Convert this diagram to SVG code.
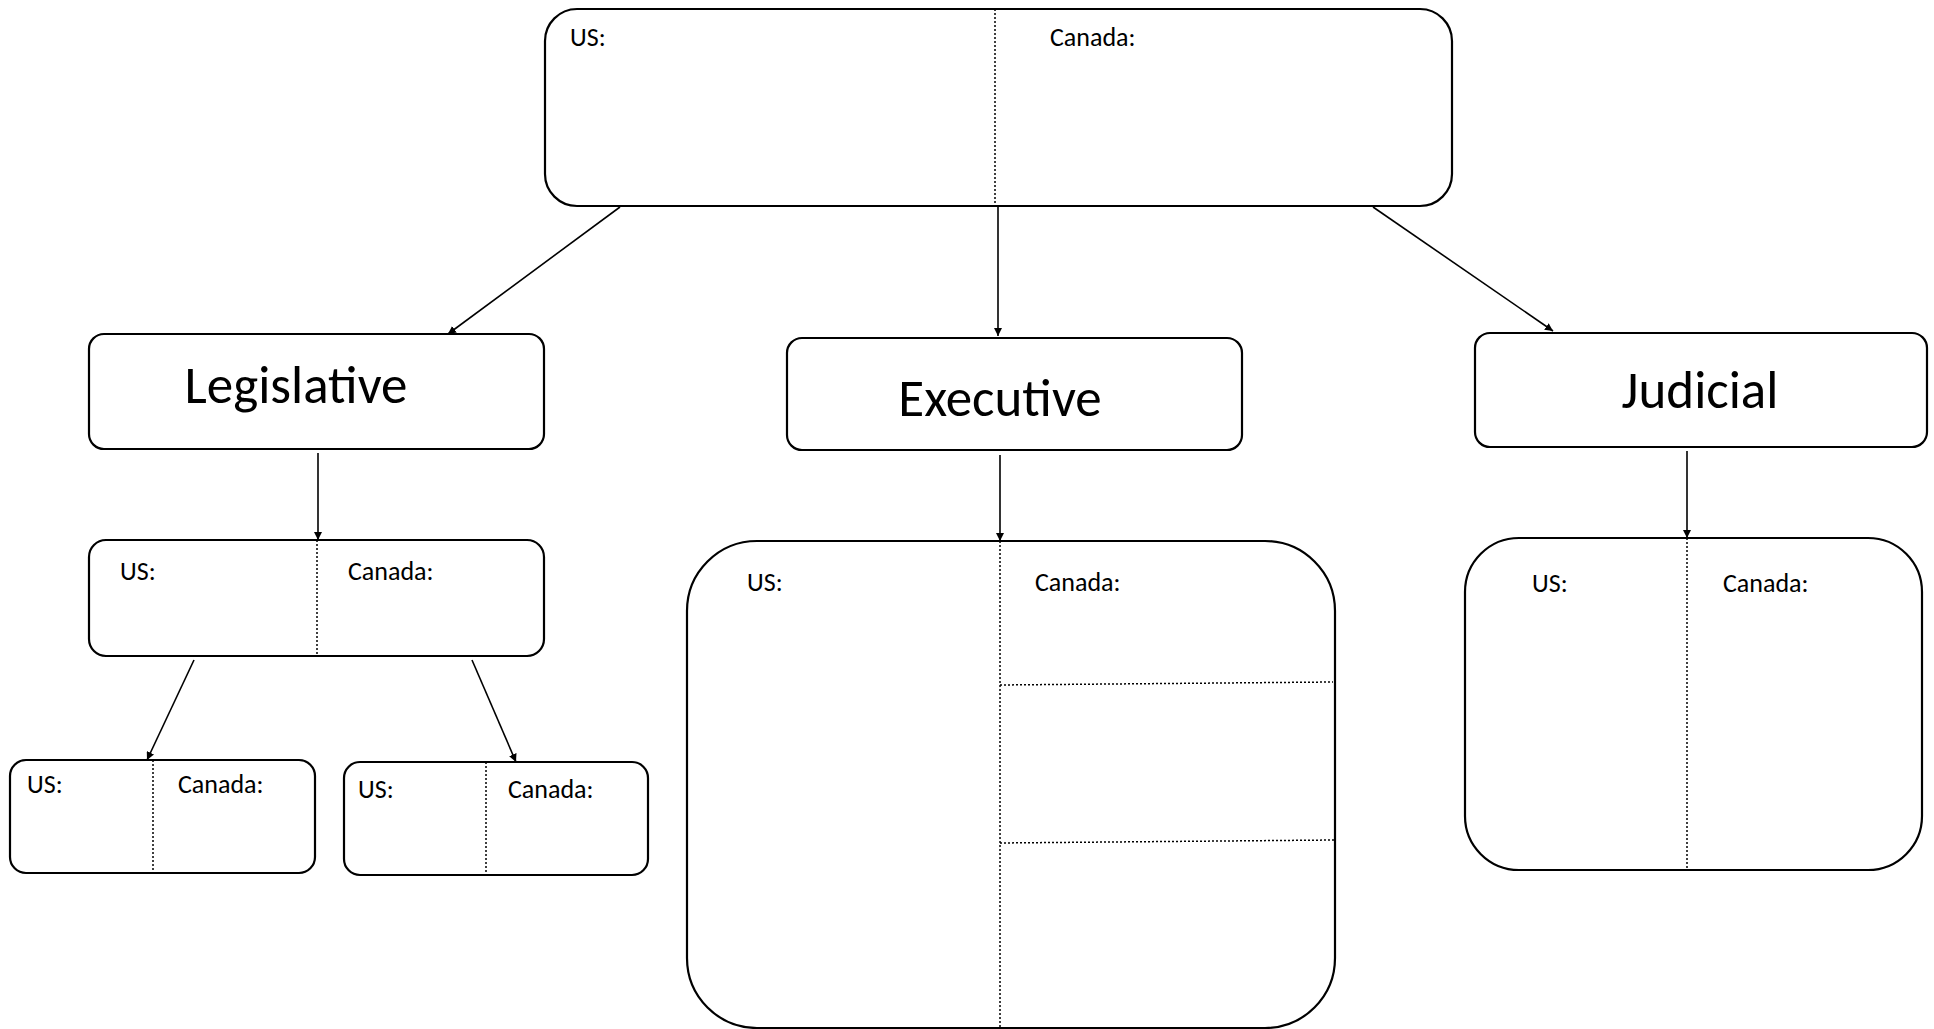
<svg xmlns="http://www.w3.org/2000/svg" width="1934" height="1029" viewBox="0 0 1934 1029">
<defs>
<style>
.box{fill:#fff;stroke:#000;stroke-width:2.2}
.div{stroke:#000;stroke-width:1.5;stroke-dasharray:2 2;fill:none}
.con{stroke:#000;stroke-width:1.6;fill:none;marker-end:url(#ah)}
.lbl{font-family:Carlito,Lato,"Open Sans",sans-serif;font-size:26px;fill:#000}
.ttl{font-family:Carlito,Lato,"Open Sans",sans-serif;font-size:53px;fill:#000;text-anchor:middle}
</style>
<marker id="ah" viewBox="0 0 10 10" refX="10" refY="5" markerWidth="8" markerHeight="8" markerUnits="userSpaceOnUse" orient="auto">
<path d="M0,0 L10,5 L0,10 z" fill="#000"/>
</marker>
</defs>
<rect width="1934" height="1029" fill="#fff"/>
<g id="connectors">
<line class="con" x1="620" y1="207" x2="448" y2="334"/>
<line class="con" x1="998" y1="207" x2="998" y2="336"/>
<line class="con" x1="1373" y1="207" x2="1553" y2="331"/>
<line class="con" x1="318" y1="453" x2="318" y2="540"/>
<line class="con" x1="1000" y1="455" x2="1000" y2="541"/>
<line class="con" x1="1687" y1="451" x2="1687" y2="538"/>
<line class="con" x1="194" y1="660" x2="147" y2="760"/>
<line class="con" x1="472" y1="660" x2="516" y2="762"/>
</g>
<g id="top">
<rect class="box" x="545" y="9" width="907" height="197" rx="32" ry="32"/>
<line class="div" x1="995" y1="9" x2="995" y2="206"/>
<text class="lbl" x="570" y="46">US:</text>
<text class="lbl" x="1050" y="46">Canada:</text>
</g>
<g id="legislative">
<rect class="box" x="89" y="334" width="455" height="115" rx="15" ry="15"/>
<text class="ttl" x="296" y="403">Legislative</text>
</g>
<g id="executive">
<rect class="box" x="787" y="338" width="455" height="112" rx="15" ry="15"/>
<text class="ttl" x="1000" y="416">Executive</text>
</g>
<g id="judicial">
<rect class="box" x="1475" y="333" width="452" height="114" rx="15" ry="15"/>
<text class="ttl" x="1700" y="408">Judicial</text>
</g>
<g id="leg-compare">
<rect class="box" x="89" y="540" width="455" height="116" rx="17" ry="17"/>
<line class="div" x1="317" y1="540" x2="317" y2="656"/>
<text class="lbl" x="120" y="580">US:</text>
<text class="lbl" x="348" y="580">Canada:</text>
</g>
<g id="leg-left">
<rect class="box" x="10" y="760" width="305" height="113" rx="16" ry="16"/>
<line class="div" x1="153" y1="760" x2="153" y2="873"/>
<text class="lbl" x="27" y="793">US:</text>
<text class="lbl" x="178" y="793">Canada:</text>
</g>
<g id="leg-right">
<rect class="box" x="344" y="762" width="304" height="113" rx="16" ry="16"/>
<line class="div" x1="486" y1="762" x2="486" y2="875"/>
<text class="lbl" x="358" y="798">US:</text>
<text class="lbl" x="508" y="798">Canada:</text>
</g>
<g id="exec-compare">
<rect class="box" x="687" y="541" width="648" height="487" rx="70" ry="70"/>
<line class="div" x1="1000" y1="541" x2="1000" y2="1028"/>
<line class="div" x1="1000" y1="685" x2="1333" y2="682"/>
<line class="div" x1="1000" y1="843" x2="1334" y2="840"/>
<text class="lbl" x="747" y="591">US:</text>
<text class="lbl" x="1035" y="591">Canada:</text>
</g>
<g id="jud-compare">
<rect class="box" x="1465" y="538" width="457" height="332" rx="54" ry="54"/>
<line class="div" x1="1687" y1="538" x2="1687" y2="870"/>
<text class="lbl" x="1532" y="592">US:</text>
<text class="lbl" x="1723" y="592">Canada:</text>
</g>
</svg>
